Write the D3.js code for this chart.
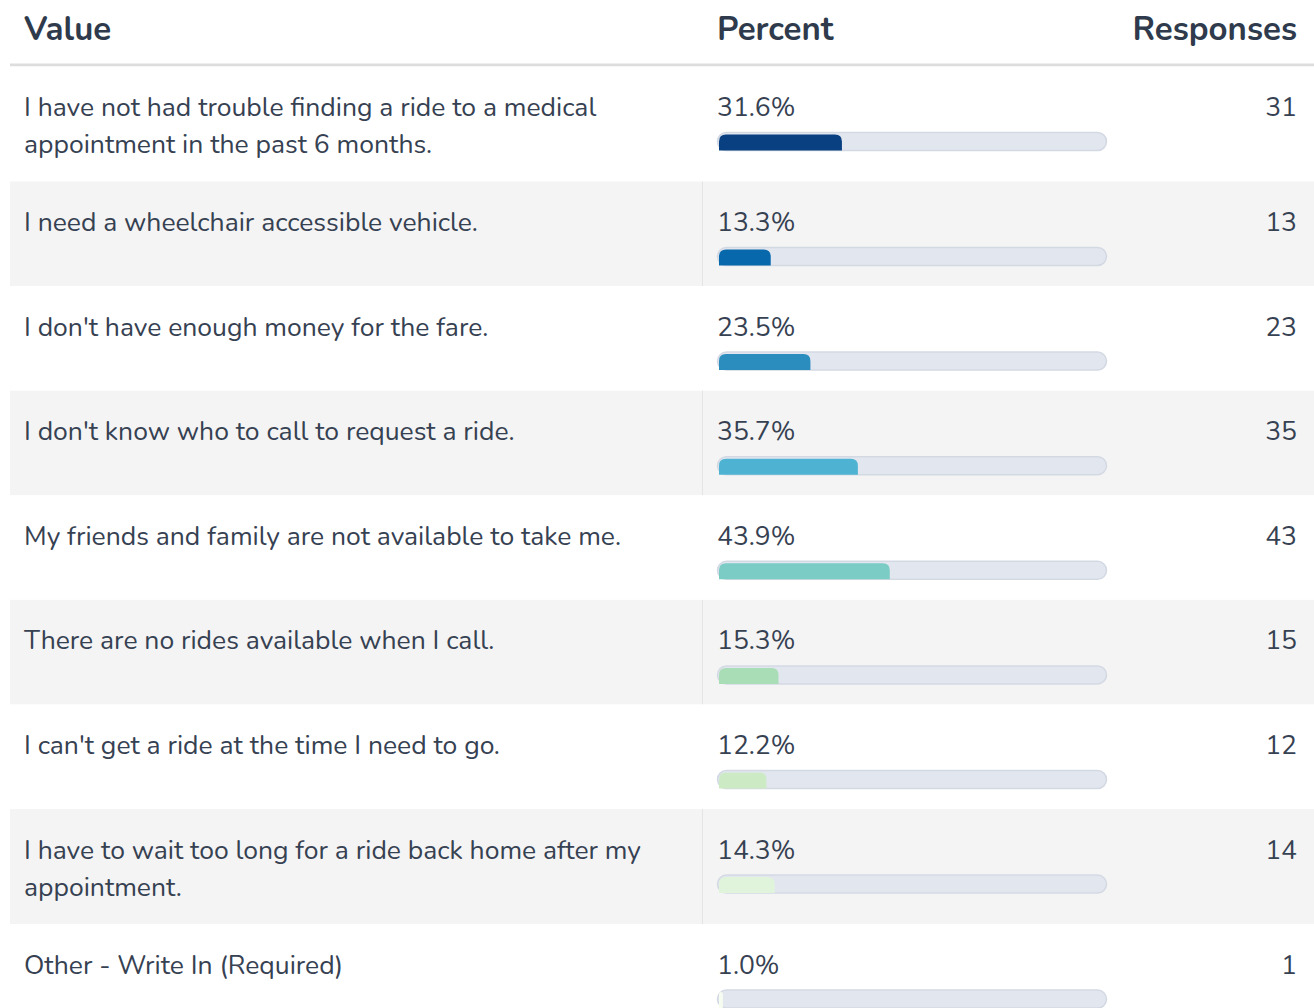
<!DOCTYPE html>
<html>
<head>
<meta charset="utf-8">
<script src="https://cdn.jsdelivr.net/npm/d3@7"></script>
<style>
  body { margin: 0; background: #fff; }
  text { font-family: Nunito, "Open Sans", Lato, sans-serif; }
</style>
</head>
<body>
<div class="chart"></div>
<script>
// table data
var labels = [
  "I have not had trouble finding a ride to a medical appointment in the past 6 months.",
  "I need a wheelchair accessible vehicle.",
  "I don't have enough money for the fare.",
  "I don't know who to call to request a ride.",
  "My friends and family are not available to take me.",
  "There are no rides available when I call.",
  "I can't get a ride at the time I need to go.",
  "I have to wait too long for a ride back home after my appointment.",
  "Other - Write In (Required)"
];
var percents = [31.6, 13.3, 23.5, 35.7, 43.9, 15.3, 12.2, 14.3, 1.0];
var responses = [31, 13, 23, 35, 43, 15, 12, 14, 1];
var headers = ["Value", "Percent", "Responses"];
var palette = d3.schemeGnBu[9].slice().reverse();

var width = 1314, height = 1008;
var left = 10, valueX = 24, pctX = 717, respX = 1297, divX = 702.5;
var lineH = 37, pad = 20.5, trackW = 389, trackH = 18;
var fontSize = "26.5px";
var textColor = "#364152";

var svg = d3.select(".chart").append("svg")
    .attr("width", width)
    .attr("height", height);

// header
svg.selectAll("text.head")
    .data(headers)
    .enter().append("text")
    .attr("class", "head")
    .attr("x", function(d, i) { return [valueX, pctX, respX][i]; })
    .attr("y", 40)
    .attr("text-anchor", function(d, i) { return i == 2 ? "end" : "start"; })
    .style("font-size", "33px")
    .style("font-weight", "bold")
    .style("fill", "#2f3b4c")
    .text(function(d) { return d; });

svg.append("rect")
    .attr("x", left).attr("y", 63.5)
    .attr("width", width - left).attr("height", 3)
    .attr("fill", "#dddddd");

// wrap labels into lines using a measuring text
var measure = svg.append("text").style("font-size", fontSize);
function wrap(str, maxW) {
  var words = str.split(" "), lines = [], cur = "";
  words.forEach(function(w) {
    var t = cur ? cur + " " + w : w;
    measure.text(t);
    if (measure.node().getComputedTextLength() > maxW && cur) {
      lines.push(cur); cur = w;
    } else cur = t;
  });
  lines.push(cur);
  return lines;
}
var rows = labels.map(function(l, i) {
  return {label: l, lines: wrap(l, 660), pct: percents[i], n: responses[i], color: palette[i], i: i};
});
measure.remove();

var y0 = 66.5;
rows.forEach(function(r) {
  r.h = pad * 2 + Math.max(r.lines.length * lineH, 63.6);
  r.y = y0;
  y0 += r.h;
});

var x = d3.scaleLinear().domain([0, 100]).range([0, trackW]);

var row = svg.selectAll("g.row")
    .data(rows)
    .enter().append("g")
    .attr("class", "row")
    .attr("transform", function(d) { return "translate(0," + d.y + ")"; });

row.append("rect")
    .attr("x", left)
    .attr("width", width - left)
    .attr("height", function(d) { return d.h; })
    .attr("fill", function(d) { return d.i % 2 ? "#f4f4f4" : "#ffffff"; });

row.filter(function(d) { return d.i % 2; })
    .append("line")
    .attr("x1", divX).attr("x2", divX)
    .attr("y1", 0).attr("y2", function(d) { return d.h; })
    .attr("stroke", "#e4e4e4");

// value text
row.append("text")
    .attr("x", valueX)
    .attr("y", 49.5)
    .style("font-size", fontSize)
    .style("fill", textColor)
    .selectAll("tspan")
    .data(function(d) { return d.lines; })
    .enter().append("tspan")
    .attr("x", valueX)
    .attr("dy", function(d, i) { return i ? lineH : 0; })
    .text(function(d) { return d; });

// percent text
row.append("text")
    .attr("x", pctX)
    .attr("y", 49.5)
    .style("font-size", fontSize)
    .style("fill", textColor)
    .text(function(d) { return d.pct.toFixed(1) + "%"; });

// responses
row.append("text")
    .attr("x", respX)
    .attr("y", 49.5)
    .attr("text-anchor", "end")
    .style("font-size", fontSize)
    .style("fill", textColor)
    .text(function(d) { return d.n; });

// progress track
row.append("rect")
    .attr("x", pctX + 0.5)
    .attr("y", 66)
    .attr("width", trackW)
    .attr("height", trackH)
    .attr("rx", 9)
    .attr("fill", "#e2e6ef")
    .attr("stroke", "#d3d9e3")
    .attr("stroke-width", 1.5);

// bar with rounded top corners
row.append("path")
    .attr("fill", function(d) { return d.color; })
    .attr("d", function(d) {
      var bx = pctX + 2, by = 68, bw = Math.max(x(d.pct), 3), bh = 16, r = Math.min(7, bw / 2);
      return "M" + bx + "," + (by + bh) +
        "V" + (by + r) +
        "Q" + bx + "," + by + " " + (bx + r) + "," + by +
        "H" + (bx + bw - r) +
        "Q" + (bx + bw) + "," + by + " " + (bx + bw) + "," + (by + r) +
        "V" + (by + bh) + "Z";
    });
</script>
</body>
</html>
